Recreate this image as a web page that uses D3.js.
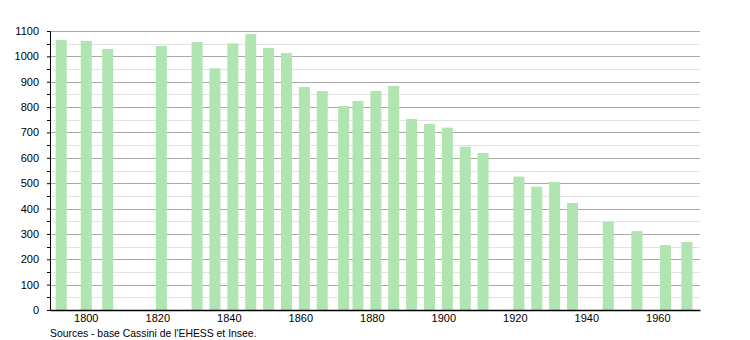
<!DOCTYPE html>
<html>
<head>
<meta charset="utf-8">
<script src="https://cdn.jsdelivr.net/npm/d3@7"></script>
<style>
    body { margin: 0; background: #fff; }
    svg text { font-family: "Liberation Sans", Arial, sans-serif; fill: #000; }
</style>
</head>
<body>
<figure id="chart" style="margin:0"></figure>
<script>
// census years and population
var years = [1793, 1800, 1806, 1821, 1831, 1836, 1841, 1846, 1851, 1856, 1861, 1866, 1872, 1876,
    1881, 1886, 1891, 1896, 1901, 1906, 1911, 1921, 1926, 1931, 1936, 1946, 1954, 1962, 1968];
var population = [1065, 1061, 1029, 1041, 1057, 953, 1051, 1088, 1033, 1013, 879, 863, 804, 824,
    864, 883, 753, 733, 719, 644, 619, 526, 486, 505, 422, 348, 311, 256, 268];
var xTicks = [1800, 1820, 1840, 1860, 1880, 1900, 1920, 1940, 1960];
var yTicks = [0, 100, 200, 300, 400, 500, 600, 700, 800, 900, 1000, 1100];
var sourceText = "Sources - base Cassini de l'EHESS et Insee.";

let dimensions = {
    width: 750,
    height: 340,
    margin: { top: 31, right: 50, bottom: 30, left: 50 },
};
dimensions.boundedWidth = dimensions.width - dimensions.margin.left - dimensions.margin.right;
dimensions.boundedHeight = dimensions.height - dimensions.margin.top - dimensions.margin.bottom;

var root = d3.select("figure#chart")
    .append("svg")
    .attr("width", dimensions.width)
    .attr("height", dimensions.height);

var svg = root.append("g")
    .attr("transform", `translate(${dimensions.margin.left}, ${dimensions.margin.top})`);

var xScale = d3.scaleLinear()
    .domain([1790, 1971.8])
    .range([0, dimensions.boundedWidth]);

var yScale = d3.scaleLinear()
    .domain([0, 1100])
    .range([dimensions.boundedHeight, 0]);

// grid: light lines at 50s, darker at 100s
var minor = d3.range(50, 1100, 100);
svg.selectAll("line.minor")
    .data(minor)
    .enter()
    .append("line")
    .attr("x1", 0)
    .attr("x2", dimensions.boundedWidth)
    .attr("y1", d => Math.round(yScale(d)) + 0.5)
    .attr("y2", d => Math.round(yScale(d)) + 0.5)
    .attr("stroke", "#e2e2e2");

svg.selectAll("line.major")
    .data(yTicks.filter(d => d > 0))
    .enter()
    .append("line")
    .attr("x1", 0)
    .attr("x2", dimensions.boundedWidth)
    .attr("y1", d => Math.round(yScale(d)) + 0.5)
    .attr("y2", d => Math.round(yScale(d)) + 0.5)
    .attr("stroke", "#aaaaaa");

// bars
var barWidth = 11;
svg.selectAll("rect")
    .data(years)
    .enter()
    .append("rect")
    .attr("x", d => xScale(d) - barWidth / 2 + 0.5)
    .attr("y", (d, i) => yScale(population[i]))
    .attr("width", barWidth)
    .attr("height", (d, i) => dimensions.boundedHeight - yScale(population[i]))
    .attr("fill", "#b0e4b0");

// y axis
var yAxis = svg.append("g")
    .call(d3.axisLeft(yScale).tickValues(yTicks).tickFormat(d3.format("d")).tickSize(3).tickPadding(8));
yAxis.select(".domain").attr("stroke", "#000");
yAxis.selectAll("text").style("font-size", "11px");
svg.selectAll("line.ytickminor")
    .data(minor)
    .enter()
    .append("line")
    .attr("x1", -3)
    .attr("x2", 0)
    .attr("y1", d => Math.round(yScale(d)) + 0.5)
    .attr("y2", d => Math.round(yScale(d)) + 0.5)
    .attr("stroke", "#000");

// x axis
var xAxis = svg.append("g")
    .attr("transform", `translate(0, ${dimensions.boundedHeight})`)
    .call(d3.axisBottom(xScale).tickValues(xTicks).tickFormat(d3.format("d")).tickSize(0).tickPadding(4));
xAxis.select(".domain").attr("stroke", "#000").attr("stroke-width", 1.5);
xAxis.selectAll("text").style("font-size", "11px");

root.append("text")
    .attr("x", 50)
    .attr("y", 337)
    .style("font-size", "10.4px")
    .text(sourceText);
</script>
</body>
</html>
